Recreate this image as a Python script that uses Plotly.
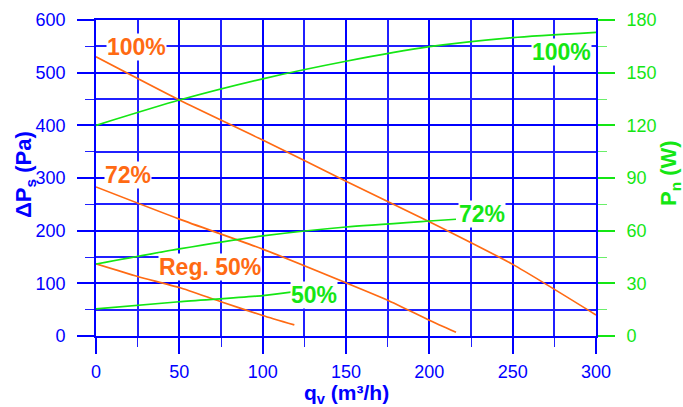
import plotly.graph_objects as go

# Flow q_v (m3/h) and static pressure ΔPs (Pa) — orange curves
q_p100 = [0, 50, 100, 150, 200, 250, 300]
dp_p100 = [530, 448, 372, 294, 217, 136, 40]
q_p72 = [0, 50, 100, 150, 175, 200, 216]
dp_p72 = [283, 222, 165, 101, 68, 30, 7]
q_reg50 = [0, 25, 50, 75, 100, 119]
dp_reg50 = [137, 113, 92, 65, 39, 21]

# Power P_n (W) — green curves
q_w100 = [0, 50, 100, 150, 200, 250, 300]
pw_w100 = [120, 134.4, 146.5, 156.5, 164.8, 170, 173]
q_w72 = [0, 50, 100, 150, 200, 216]
pw_w72 = [41, 49.6, 57, 62.1, 65.5, 66.5]
q_w50 = [0, 50, 100, 117]
pw_w50 = [15.4, 19.5, 23, 25]

x_ticks = [0, 50, 100, 150, 200, 250, 300]
y_ticks = [0, 100, 200, 300, 400, 500, 600]
y2_ticks = [0, 30, 60, 90, 120, 150, 180]

BLUE = "#0000ff"
MINOR = "#2020ff"
GREEN = "#14e614"
ORANGE = "#ff6a13"
FONT = "Liberation Sans, Arial, sans-serif"

fig = go.Figure()
for xs, ys in [(q_p100, dp_p100), (q_p72, dp_p72), (q_reg50, dp_reg50)]:
    fig.add_trace(go.Scatter(x=xs, y=ys, mode="lines", line=dict(color=ORANGE, width=1.7, shape="spline", smoothing=0.6),
                             showlegend=False, hoverinfo="skip"))
for xs, ys in [(q_w100, pw_w100), (q_w72, pw_w72), (q_w50, pw_w50)]:
    fig.add_trace(go.Scatter(x=xs, y=ys, mode="lines", yaxis="y2", line=dict(color=GREEN, width=1.7, shape="spline", smoothing=0.6),
                             showlegend=False, hoverinfo="skip"))

labels = [
    ("100%", 24, 548, ORANGE),
    ("72%", 19, 305, ORANGE),
    ("Reg. 50%", 68.2, 131, ORANGE),
    ("50%", 130.7, 77, GREEN),
    ("72%", 231.6, 231, GREEN),
    ("100%", 279.2, 539, GREEN),
]
for txt, x, y, c in labels:
    fig.add_annotation(x=x, y=y, xref="x", yref="y", text="<b>%s</b>" % txt, showarrow=False,
                       xanchor="center", yanchor="middle",
                       font=dict(family=FONT, size=23, color=c), bgcolor="white", borderpad=0)

W, H = 683, 407
L, R, T, B = 96, 87, 20, 71
pw, ph = W - L - R, H - T - B


def px(xp, yp):
    return (xp - L) / pw, (H - B - yp) / ph


# axis titles (pixel centres converted to paper coordinates)
tx, ty = px(25, 175)
fig.add_annotation(x=tx, y=ty, xref="paper", yref="paper", text="<b>ΔP<sub>s</sub> (Pa)</b>", showarrow=False,
                   xanchor="center", yanchor="middle", textangle=-90, font=dict(family=FONT, size=22, color=BLUE))
tx, ty = px(346, 394.5)
fig.add_annotation(x=tx, y=ty, xref="paper", yref="paper", text="<b>q<sub>v</sub> (m³/h)</b>", showarrow=False,
                   xanchor="center", yanchor="middle", font=dict(family=FONT, size=21, color=BLUE))
tx, ty = px(670, 173)
fig.add_annotation(x=tx, y=ty, xref="paper", yref="paper", text="<b>P<sub>n</sub> (W)</b>", showarrow=False,
                   xanchor="center", yanchor="middle", textangle=-90, font=dict(family=FONT, size=22, color=GREEN))

fig.update_layout(
    width=W, height=H, margin=dict(l=L, r=R, t=T, b=B, autoexpand=False),
    paper_bgcolor="white", plot_bgcolor="white", showlegend=False,
    font=dict(family=FONT),
    xaxis=dict(range=[0, 300], tickvals=x_ticks, ticktext=[str(v) for v in x_ticks], automargin=False,
               showgrid=True, gridcolor=BLUE, gridwidth=1.8, zeroline=False,
               showline=True, linecolor=BLUE, linewidth=1.8, mirror=True,
               ticks="outside", ticklen=16, tickwidth=1.8, tickcolor=BLUE,
               tickfont=dict(family=FONT, size=18, color=BLUE), ticklabelstandoff=2,
               minor=dict(dtick=25, tick0=0, showgrid=True, gridcolor=MINOR, gridwidth=1.6,
                          ticks="outside", ticklen=9, tickwidth=1.4, tickcolor=MINOR)),
    yaxis=dict(range=[0, 600], tickvals=y_ticks, ticktext=[str(v) for v in y_ticks], automargin=False,
               showgrid=True, gridcolor=BLUE, gridwidth=1.8, zeroline=False,
               showline=True, linecolor=BLUE, linewidth=1.8,
               ticks="outside", ticklen=17, tickwidth=1.8, tickcolor=BLUE,
               tickfont=dict(family=FONT, size=18, color=BLUE), ticklabelstandoff=8,
               minor=dict(dtick=50, tick0=0, showgrid=True, gridcolor=MINOR, gridwidth=1.6,
                          ticks="outside", ticklen=9, tickwidth=1.4, tickcolor=MINOR)),
    yaxis2=dict(range=[0, 180], overlaying="y", side="right", tickvals=y2_ticks, automargin=False,
                ticktext=[str(v) for v in y2_ticks], showgrid=False, zeroline=False,
                showline=True, linecolor=BLUE, linewidth=1.8,
                ticks="outside", ticklen=17, tickwidth=1.8, tickcolor=GREEN,
                tickfont=dict(family=FONT, size=18, color=GREEN), ticklabelstandoff=8,
                minor=dict(dtick=15, tick0=0, ticks="outside", ticklen=9, tickwidth=1.4, tickcolor="#6aef6a")),
)

fig.write_html("out.html", config={"displayModeBar": False},
               post_script="document.body.style.margin='0';document.body.style.overflow='hidden';")
